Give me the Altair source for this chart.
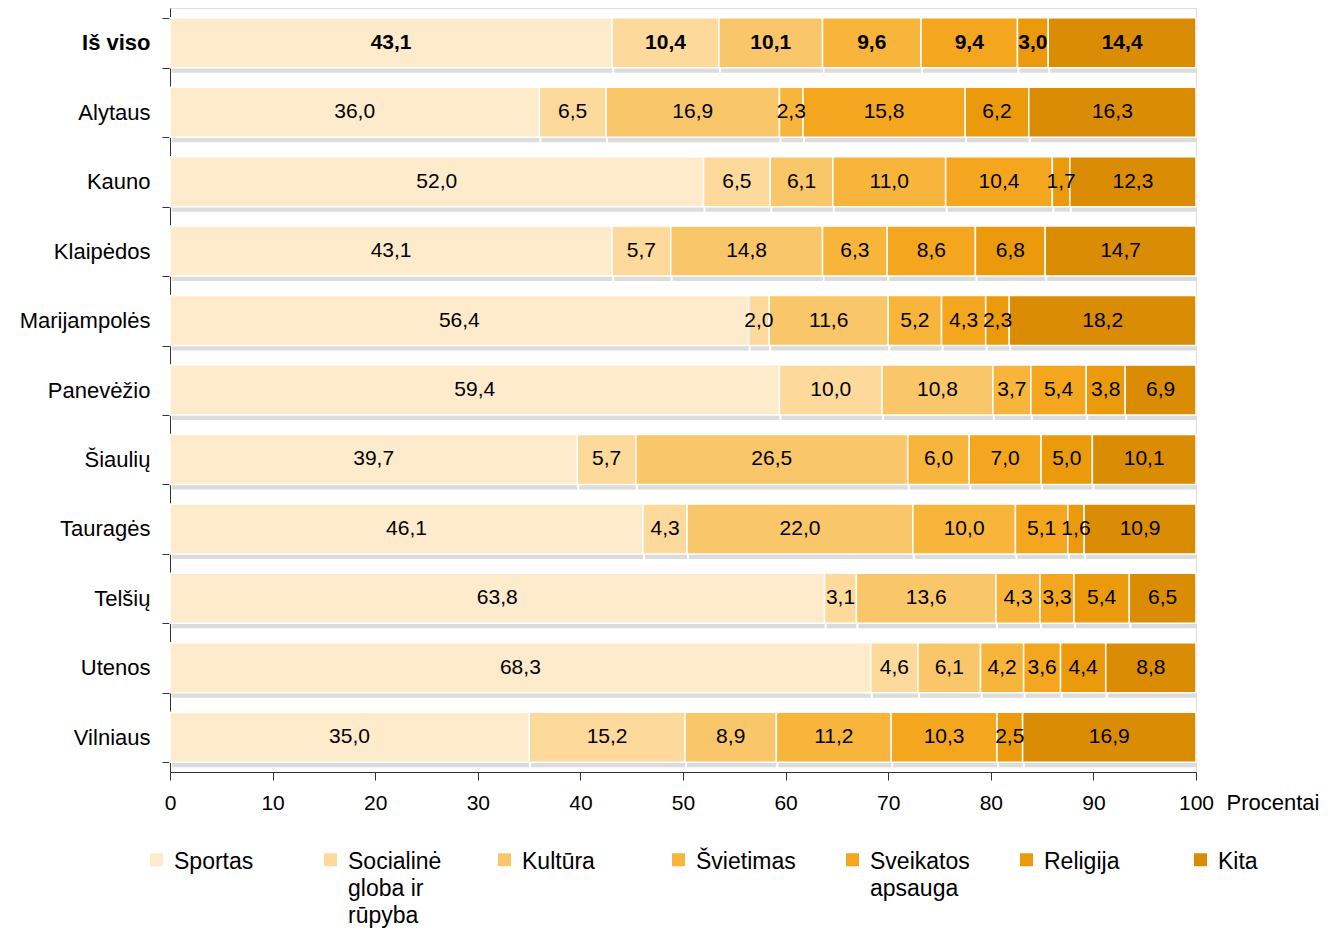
import altair as alt
import pandas as pd

regions = ["Iš viso", "Alytaus", "Kauno", "Klaipėdos", "Marijampolės", "Panevėžio",
           "Šiaulių", "Tauragės", "Telšių", "Utenos", "Vilniaus"]
categories = ["Sportas", "Socialinė globa ir rūpyba", "Kultūra", "Švietimas",
              "Sveikatos apsauga", "Religija", "Kita"]
colors = ["#FEEBCC", "#FDD99B", "#F9C66A", "#F7B53C", "#F4A61F", "#EA9A0B", "#DA8C05"]

values = {
    "Iš viso":      [43.1, 10.4, 10.1, 9.6, 9.4, 3.0, 14.4],
    "Alytaus":      [36.0, 6.5, 16.9, 2.3, 15.8, 6.2, 16.3],
    "Kauno":        [52.0, 6.5, 6.1, 11.0, 10.4, 1.7, 12.3],
    "Klaipėdos":    [43.1, 5.7, 14.8, 6.3, 8.6, 6.8, 14.7],
    "Marijampolės": [56.4, 2.0, 11.6, 5.2, 4.3, 2.3, 18.2],
    "Panevėžio":    [59.4, 10.0, 10.8, 3.7, 5.4, 3.8, 6.9],
    "Šiaulių":      [39.7, 5.7, 26.5, 6.0, 7.0, 5.0, 10.1],
    "Tauragės":     [46.1, 4.3, 22.0, 10.0, 5.1, 1.6, 10.9],
    "Telšių":       [63.8, 3.1, 13.6, 4.3, 3.3, 5.4, 6.5],
    "Utenos":       [68.3, 4.6, 6.1, 4.2, 3.6, 4.4, 8.8],
    "Vilniaus":     [35.0, 15.2, 8.9, 11.2, 10.3, 2.5, 16.9],
}

rows = []
for r in regions:
    for i, c in enumerate(categories):
        rows.append({"region": r, "cat": c, "order": i, "value": values[r][i]})
df = pd.DataFrame(rows)

FONT = "Liberation Sans"

base = alt.Chart(df).transform_stack(
    stack="value", groupby=["region"], as_=["x0", "x1"], sort=[{"field": "order"}]
).transform_calculate(
    mid="(datum.x0 + datum.x1) / 2",
    lab="replace(format(datum.value, '.1f'), '.', ',')",
)

yscale = alt.Scale(domain=regions, paddingInner=0.28, paddingOuter=0.14)

yenc = alt.Y("region:N", sort=regions, scale=yscale, title=None,
             axis=alt.Axis(tickBand="extent", labelFontSize=22, labelFont=FONT,
                           labelColor="#000", labelPadding=12, tickSize=8,
                           tickColor="#333", domainColor="#333",
                           labelFontWeight=alt.expr("datum.value == 'Iš viso' ? 'bold' : 'normal'")))

xscale = alt.Scale(domain=[0, 100], nice=False)

shadow = base.mark_bar(color="#c4c4c4", yOffset=5, xOffset=2, size=50, opacity=0.6).encode(
    x=alt.X("x0:Q", scale=xscale),
    x2="x1:Q",
    y=yenc,
)

legend_labels = ("datum.label == 'Socialinė globa ir rūpyba' ? ['Socialinė', 'globa ir', 'rūpyba'] : "
                 "datum.label == 'Sveikatos apsauga' ? ['Sveikatos', 'apsauga', ''] : "
                 "[datum.label, '', '']")

bars = base.mark_bar(size=50, stroke="white", strokeWidth=1.5).encode(
    x=alt.X("x0:Q", scale=xscale,
            axis=alt.Axis(values=list(range(0, 101, 10)), grid=False, tickSize=8,
                          labelFontSize=21, labelFont=FONT, labelColor="#000",
                          labelPadding=12, labelFlush=False, tickColor="#333", domainColor="#333",
                          title="Procentai", titleFont=FONT, titleFontSize=22,
                          titleFontWeight="normal", titleColor="#000",
                          titleAnchor="start", titleAlign="left", titleBaseline="top",
                          titleX=1056, titleY=20)),
    x2="x1:Q",
    y=alt.Y("region:N", sort=regions, scale=yscale),
    color=alt.Color("cat:N", scale=alt.Scale(domain=categories, range=colors),
                    legend=alt.Legend(title=None, orient="none", legendX=-25, legendY=849,
                                      padding=0,
                                      direction="horizontal", columns=7, gridAlign="all",
                                      columnPadding=45,
                                      symbolType="M-1,-2.385H1V-0.385H-1Z", symbolSize=169,
                                      symbolStrokeWidth=0, labelFontSize=23, labelFont=FONT,
                                      labelColor="#000", labelBaseline="alphabetic", labelOffset=6,
                                      labelLimit=300, labelExpr=legend_labels)),
    order=alt.Order("order:Q"),
)

text = base.mark_text(fontSize=21, font=FONT, color="#000",
                      fontWeight=alt.expr("datum.region == 'Iš viso' ? 'bold' : 'normal'")).encode(
    x=alt.X("mid:Q", scale=xscale),
    y=alt.Y("region:N", sort=regions, scale=yscale),
    text="lab:N",
)

chart = alt.layer(shadow, bars, text).properties(
    width=1026, height=764,
    autosize=alt.AutoSizeParams(type="none"),
    padding={"left": 170, "top": 8, "right": 143, "bottom": 159},
).configure_view(stroke=None).configure(
    background="white", style={"guide-label": {"lineHeight": 27}}
)

chart.save("out.html", embed_options={"renderer": "svg", "actions": False})
